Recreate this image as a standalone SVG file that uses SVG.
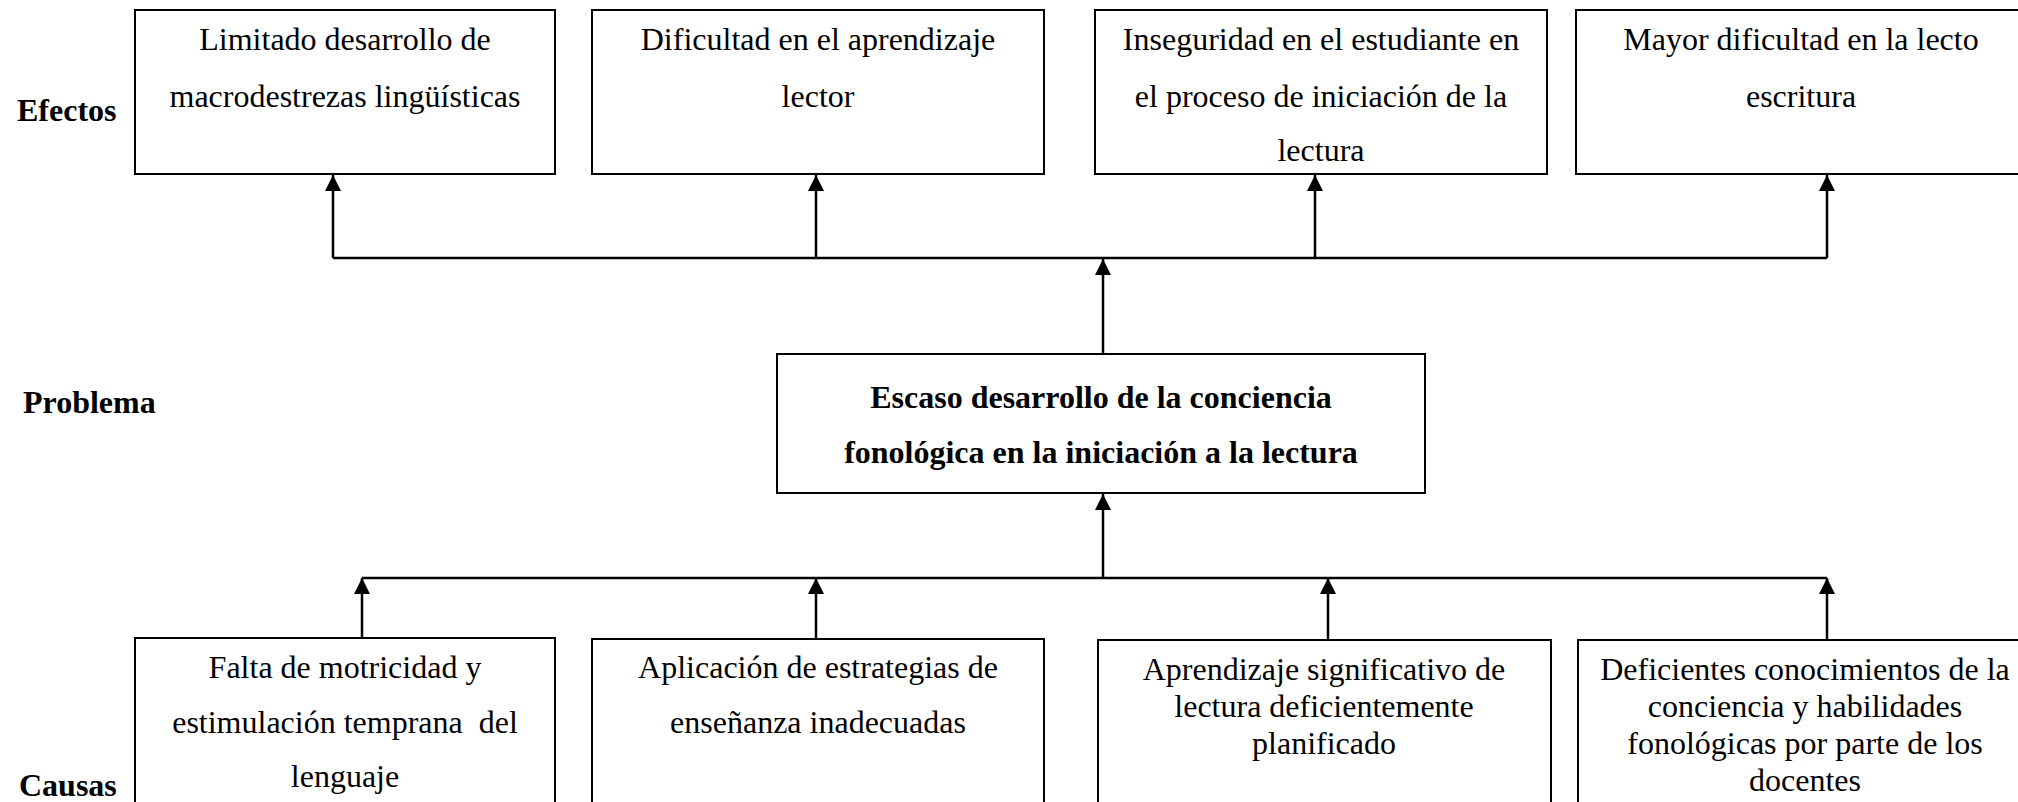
<svg xmlns="http://www.w3.org/2000/svg" width="2018" height="802" viewBox="0 0 2018 802">
<style>
.box{fill:#fff;stroke:#000;stroke-width:2}
.t{font-family:"Liberation Serif","Times New Roman",serif;font-size:32px;fill:#000;text-anchor:middle}
.b{font-weight:bold}
.lbl{font-family:"Liberation Serif","Times New Roman",serif;font-size:32px;font-weight:bold;fill:#000}
.c{stroke:#000;stroke-width:2.5;fill:none}
</style>
<defs>
<marker id="ah" viewBox="0 0 10 10" refX="10" refY="5" markerWidth="16" markerHeight="16" markerUnits="userSpaceOnUse" orient="auto">
<path d="M0,0 L10,5 L0,10 z" fill="#000"/>
</marker>
</defs>
<rect width="2018" height="802" fill="#fff"/>
<text class="lbl" x="17" y="121">Efectos</text>
<text class="lbl" x="23" y="413">Problema</text>
<text class="lbl" x="19" y="796">Causas</text>
<g id="connectors">
<line class="c" x1="333" y1="258" x2="1827" y2="258"/>
<line class="c" x1="333" y1="258" x2="333" y2="175" marker-end="url(#ah)"/>
<line class="c" x1="816" y1="258" x2="816" y2="175" marker-end="url(#ah)"/>
<line class="c" x1="1315" y1="258" x2="1315" y2="175" marker-end="url(#ah)"/>
<line class="c" x1="1827" y1="258" x2="1827" y2="175" marker-end="url(#ah)"/>
<line class="c" x1="1103" y1="354" x2="1103" y2="259" marker-end="url(#ah)"/>
<line class="c" x1="1103" y1="578" x2="1103" y2="494" marker-end="url(#ah)"/>
<line class="c" x1="362" y1="578" x2="1827" y2="578"/>
<line class="c" x1="362" y1="638" x2="362" y2="578" marker-end="url(#ah)"/>
<line class="c" x1="816" y1="639" x2="816" y2="578" marker-end="url(#ah)"/>
<line class="c" x1="1328" y1="640" x2="1328" y2="578" marker-end="url(#ah)"/>
<line class="c" x1="1827" y1="640" x2="1827" y2="578" marker-end="url(#ah)"/>
</g>
<g id="e1">
<rect class="box" x="135" y="10" width="420" height="164"/>
<text class="t" x="345" y="50">Limitado desarrollo de</text>
<text class="t" x="345" y="107">macrodestrezas lingüísticas</text>
</g>
<g id="e2">
<rect class="box" x="592" y="10" width="452" height="164"/>
<text class="t" x="818" y="50">Dificultad en el aprendizaje</text>
<text class="t" x="818" y="107">lector</text>
</g>
<g id="e3">
<rect class="box" x="1095" y="10" width="452" height="164"/>
<text class="t" x="1321" y="50">Inseguridad en el estudiante en</text>
<text class="t" x="1321" y="107">el proceso de iniciación de la</text>
<text class="t" x="1321" y="161">lectura</text>
</g>
<g id="e4">
<rect class="box" x="1576" y="10" width="460" height="164"/>
<text class="t" x="1801" y="50">Mayor dificultad en la lecto</text>
<text class="t" x="1801" y="107">escritura</text>
</g>
<g id="problem">
<rect class="box" x="777" y="354" width="648" height="139"/>
<text class="t b" x="1101" y="408">Escaso desarrollo de la conciencia</text>
<text class="t b" x="1101" y="463">fonológica en la iniciación a la lectura</text>
</g>
<g id="c1">
<rect class="box" x="135" y="638" width="420" height="200"/>
<text class="t" x="345" y="678">Falta de motricidad y</text>
<text class="t" x="345" y="733" xml:space="preserve">estimulación temprana  del</text>
<text class="t" x="345" y="787">lenguaje</text>
</g>
<g id="c2">
<rect class="box" x="592" y="639" width="452" height="200"/>
<text class="t" x="818" y="678">Aplicación de estrategias de</text>
<text class="t" x="818" y="733">enseñanza inadecuadas</text>
</g>
<g id="c3">
<rect class="box" x="1098" y="640" width="453" height="200"/>
<text class="t" x="1324" y="680">Aprendizaje significativo de</text>
<text class="t" x="1324" y="717">lectura deficientemente</text>
<text class="t" x="1324" y="754">planificado</text>
</g>
<g id="c4">
<rect class="box" x="1578" y="640" width="460" height="200"/>
<text class="t" x="1805" y="680">Deficientes conocimientos de la</text>
<text class="t" x="1805" y="717">conciencia y habilidades</text>
<text class="t" x="1805" y="754">fonológicas por parte de los</text>
<text class="t" x="1805" y="791">docentes</text>
</g>
</svg>
